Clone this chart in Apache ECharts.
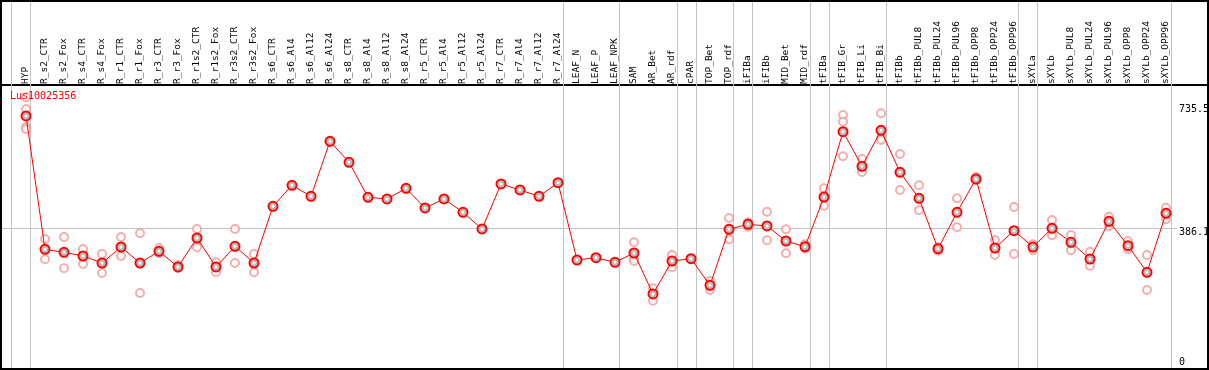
<!DOCTYPE html>
<html>
<head>
<meta charset="utf-8">
<script src="https://cdn.jsdelivr.net/npm/echarts@6/dist/echarts.min.js"></script>
<style>
html,body{margin:0;padding:0;background:#fff;}
#chart{width:1209px;height:370px;}
</style>
</head>
<body>
<div id="chart"></div>
<script>
const geneName = 'Lus10025356';
const categories = ['HYP','R_s2_CTR','R_s2_Fox','R_s4_CTR','R_s4_Fox','R_r1_CTR','R_r1_Fox','R_r3_CTR','R_r3_Fox','R_r1s2_CTR','R_r1s2_Fox','R_r3s2_CTR','R_r3s2_Fox','R_s6_CTR','R_s6_Al4','R_s6_Al12','R_s6_Al24','R_s8_CTR','R_s8_Al4','R_s8_Al12','R_s8_Al24','R_r5_CTR','R_r5_Al4','R_r5_Al12','R_r5_Al24','R_r7_CTR','R_r7_Al4','R_r7_Al12','R_r7_Al24','LEAF_N','LEAF_P','LEAF_NPK','SAM','AR_Bet','AR_rdf','cPAR','TOP_Bet','TOP_rdf','iFIBa','iFIBb','MID_Bet','MID_rdf','tFIBa','tFIB_Gr','tFIB_Li','tFIB_Bi','tFIBb','tFIBb_PUL8','tFIBb_PUL24','tFIBb_PUL96','tFIBb_OPP8','tFIBb_OPP24','tFIBb_OPP96','sXYLa','sXYLb','sXYLb_PUL8','sXYLb_PUL24','sXYLb_PUL96','sXYLb_OPP8','sXYLb_OPP24','sXYLb_OPP96'];
const meanValues = [704.5,326.7,318.2,307.7,287.9,333.2,287.9,321.1,276.6,358.7,276.6,335.2,287.9,448.6,508.1,476.9,632.8,573.3,474.1,469.3,499.6,443.8,469.3,431.6,384.3,511.8,494.8,476.9,515.5,296.4,302.9,289.9,316.2,200.1,293.6,300.1,224.7,383.4,397.6,392.8,350.2,334.1,474.9,660.0,561.9,663.9,544.9,471.2,328.4,431.6,525.9,330.4,379.4,333.2,386.2,346.6,299.2,406.1,336.9,261.6,428.7];
const rep1 = [757.4,355.9,361.6,327.6,313.4,361.6,372.1,330.4,282.2,384.3,289.9,384.3,313.4,null,null,null,null,null,null,null,null,null,null,null,null,null,null,null,null,null,null,null,346.6,216.2,310.6,null,236.9,415.4,403.2,433.3,383.4,340.9,499.6,707.3,582.6,712.1,596.8,508.1,332.4,471.2,531.6,353.1,446.6,340.9,409.8,367.3,319.9,419.1,350.2,310.6,444.6];
const rep2 = [724.3,298.4,272.9,285.1,259.6,307.7,202.9,315.4,273.7,332.4,261.6,287.9,261.6,null,null,null,null,null,null,null,null,null,null,null,null,null,null,null,null,null,null,null,299.2,181.1,275.7,null,211.4,355.1,390.8,352.2,315.4,328.4,450.3,688.3,557.1,642.1,494.8,437.2,322.8,389.1,523.1,310.6,313.4,323.9,366.4,323.9,280.3,392.8,326.7,211.4,411.7];
const rep3 = [673.3,null,null,null,null,null,null,null,null,null,null,null,null,null,null,null,null,null,null,null,null,null,null,null,null,null,null,null,null,null,null,null,293.6,null,null,null,null,null,null,null,null,null,null,590.3,545.8,636.5,null,null,null,null,null,null,null,null,null,null,null,null,null,null,null];
const rep4 = [667.6,null,null,null,null,null,null,null,null,null,null,null,null,null,null,null,null,null,null,null,null,null,null,null,null,null,null,null,null,null,null,null,null,null,null,null,null,null,null,null,null,null,null,null,null,null,null,null,null,null,null,null,null,null,null,null,null,null,null,null,null];
const groupSeparators = [-0.8,0.22,28.25,31.22,34.25,35.25,37.22,38.22,41.25,42.25,45.25,52.22,53.22,60.25];
const axisMarks = [735.5, 386.1, 0];

const mono = 'DejaVu Sans Mono';
const pts = arr => arr.map((v,i)=>[i,v]).filter(p=>p[1]!==null);
const repData = [].concat(pts(rep1),pts(rep2),pts(rep3),pts(rep4));

const X_MIN = -25/19, X_MAX = -25/19 + 1207/19, LINE_END = 60.58;
const markData = groupSeparators.map(s=>({xAxis:s, lineStyle:{color:'#c4c4c4',width:1,type:'solid'}, label:{show:false}}));
axisMarks.forEach(m=>{
  const isGrid = (m===386.1);
  const lbl = {show:true, position:'end', distance:2, formatter:String(m), color:'#000', fontSize:10, fontFamily:mono,
     offset: m===0 ? [0,-2] : [0,4]};
  const ls = {color: isGrid ? '#c4c4c4' : 'rgba(0,0,0,0)', width:1, type:'solid'};
  markData.push([{coord:[X_MIN,m], lineStyle:ls, label:lbl},{coord:[LINE_END,m], lineStyle:ls, label:lbl}]);
});

const chart = echarts.init(document.getElementById('chart'), null, {renderer:'canvas'});
chart.setOption({
  animation:false,
  backgroundColor:'#fff',
  title:{text:geneName, left:10, top:91, textStyle:{color:'#ff0000', fontSize:10, fontWeight:'normal', fontFamily:mono}, padding:0},
  grid:{left:1, right:1, top:1, bottom:1, show:true, borderColor:'#000', borderWidth:2, backgroundColor:'transparent', z:10},
  xAxis:{type:'value', position:'top', offset:-84, min:X_MIN, max:X_MAX,
    axisLine:{show:true, onZero:false, lineStyle:{color:'#000', width:2}},
    axisTick:{show:false}, splitLine:{show:false},
    axisLabel:{show:true, customValues:categories.map((c,i)=>i), formatter:v=>categories[Math.round(v)]||'', rotate:-90, margin:1, fontSize:9.5, fontFamily:mono, color:'#000', showMinLabel:true, showMaxLabel:true, hideOverlap:false}
  },
  yAxis:{type:'value', min:-12.47, max:1030.3, show:false},
  series:[
    {type:'scatter', name:'replicates', data:repData, symbol:'emptyCircle', symbolSize:8,
      itemStyle:{color:'#f09a9a', borderColor:'#f09a9a', borderWidth:1.3}, z:3, silent:true},
    {type:'line', name:'mean', data:pts(meanValues), symbol:'emptyCircle', symbolSize:9, showAllSymbol:true,
      lineStyle:{color:'#ff0000', width:1}, itemStyle:{color:'#ff0000', borderColor:'#ff0000', borderWidth:1.6}, z:4, silent:true,
      markLine:{silent:true, symbol:['none','none'], animation:false, z:1, data:markData}},
    {type:'scatter', name:'meanCore', data:pts(meanValues), symbol:'emptyCircle', symbolSize:5,
      itemStyle:{color:'rgba(0,0,0,0.35)', borderColor:'rgba(0,0,0,0.35)', borderWidth:0.7}, z:5, silent:true}
  ]
});
</script>
</body>
</html>
